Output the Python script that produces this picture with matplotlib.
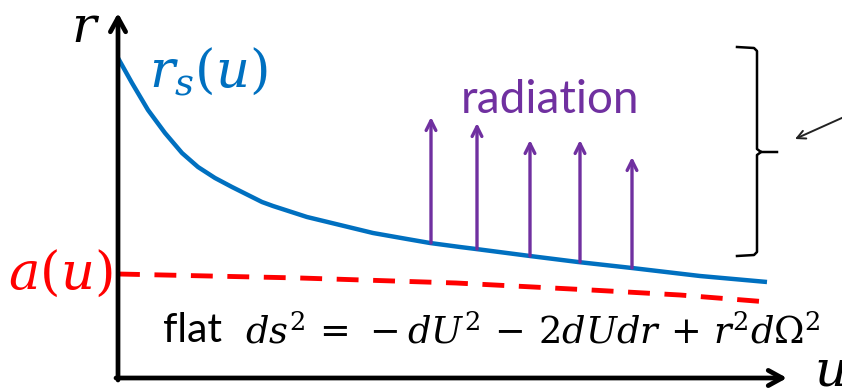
import matplotlib
matplotlib.use("Agg")
import matplotlib.pyplot as plt

plt.rcParams['font.family'] = ['Lato', 'DejaVu Sans']
plt.rcParams['mathtext.fontset'] = 'dejavuserif'

# horizon r_s(u) (u, r in picture units)
rs_u = [0, 14, 30, 47, 64, 80, 97, 114, 130, 144, 155, 189, 222, 255, 289, 312, 342, 358, 412, 460, 514, 582, 649]
rs_r = [320, 295, 268, 245, 225, 211, 200, 191, 183, 176, 172, 161, 153, 145, 139, 135, 131, 129, 122, 116, 110, 102, 96]

# a(u) dashed line
a_u = [0, 182, 338, 473, 562, 650]
a_r = [104, 100, 95, 88, 83, 76]

# radiation arrows: foot on the curve, tip above
rad_u = [313, 359, 412, 462, 514]
rad_r0 = [135, 129, 122, 116, 110]
rad_r1 = [261, 255, 238, 238, 221]

blue = '#0070C0'
red = '#FF0000'
purple = '#7030A0'

fig = plt.figure(figsize=(8.42, 3.91), dpi=100)
ax = fig.add_axes([0, 0, 1, 1])
ax.set_xlim(-118, 724)
ax.set_ylim(-13, 378)
ax.axis('off')

# axes with arrow heads
ax.annotate('', xy=(0, 365), xytext=(0, -2),
            arrowprops=dict(arrowstyle='->,head_length=1.0,head_width=0.55', lw=3.4, color='black',
                            shrinkA=0, shrinkB=0))
ax.annotate('', xy=(669, 0), xytext=(-2, 0),
            arrowprops=dict(arrowstyle='->,head_length=1.0,head_width=0.55', lw=3.4, color='black',
                            shrinkA=0, shrinkB=0))
ax.text(-32, 350, '$r$', fontsize=37, ha='center', va='center')
ax.text(696, 6, '$u$', fontsize=37, ha='left', va='center')

ax.plot(rs_u, rs_r, color=blue, lw=3.2, solid_capstyle='butt')
ax.plot(a_u, a_r, color=red, lw=3.5, dashes=(4.5, 3))

ax.text(31, 306, '$r_s(u)$', fontsize=38, color=blue, ha='left', va='center')
ax.text(-6, 105, '$a(u)$', fontsize=38, color=red, ha='right', va='center')

for u, r0, r1 in zip(rad_u, rad_r0, rad_r1):
    ax.annotate('', xy=(u, r1), xytext=(u, r0),
                arrowprops=dict(arrowstyle='->,head_length=0.7,head_width=0.35', lw=2.4,
                                color=purple, shrinkA=0, shrinkB=0))
ax.text(432, 278, 'radiation', fontsize=33, color=purple, ha='center', va='center')

ax.text(45, 47, 'flat', fontsize=29.5, ha='left', va='center')
ax.text(702, 47, r'$ds^2\,=\,-dU^2\,-\,2dUdr\,+\,r^2d\Omega^2$', fontsize=26.5,
        ha='right', va='center')

# brace on the right and pointer arrow
ax.plot([619, 636, 639, 639, 643, 659], [331, 330, 327, 229, 226, 226], color='black', lw=1.8)
ax.plot([643, 639, 639, 636, 619], [226, 223, 126, 123, 122], color='black', lw=1.8)
ax.annotate('', xy=(677, 239), xytext=(726, 261),
            arrowprops=dict(arrowstyle='->,head_length=0.6,head_width=0.3', lw=1.4, color='#222222',
                            shrinkA=0, shrinkB=0))

fig.savefig('out.png', dpi=100)
